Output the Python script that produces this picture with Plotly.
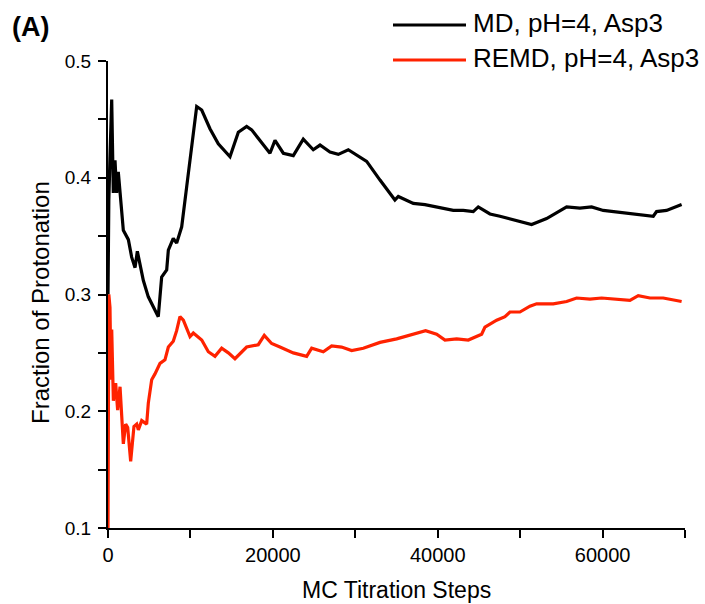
import plotly.graph_objects as go

# ---- data ----
md_steps = [0, 100, 250, 449, 645, 850, 1050, 1250, 1860, 2470,
            2870, 3280, 3560, 3840, 4290, 4890, 5500, 6100, 6510, 7120,
            7320, 7920, 8330, 8940, 9540, 10760, 11370, 12370, 13380, 14800,
            15810, 16820, 17430, 19650, 20260, 21270, 22480, 23690, 24900, 25720,
            26930, 27940, 29150, 31380, 33000, 34810, 35220, 37040, 38450, 40270,
            41890, 43100, 44310, 44920, 46340, 47550, 49160, 51390, 53210, 55640,
            57250, 58670, 60080, 61290, 62910, 64530, 66150, 66550, 67760, 69590]
md_frac = [0.30, 0.38, 0.42, 0.467, 0.387, 0.415, 0.387, 0.405, 0.355, 0.347,
           0.332, 0.323, 0.337, 0.327, 0.312, 0.298, 0.289, 0.281, 0.315, 0.321,
           0.338, 0.348, 0.344, 0.358, 0.392, 0.461, 0.458, 0.442, 0.429, 0.418,
           0.439, 0.444, 0.441, 0.421, 0.432, 0.421, 0.419, 0.433, 0.424, 0.428,
           0.422, 0.420, 0.424, 0.414, 0.398, 0.381, 0.384, 0.378, 0.377, 0.374,
           0.372, 0.372, 0.371, 0.375, 0.369, 0.367, 0.364, 0.360, 0.365, 0.375,
           0.374, 0.375, 0.372, 0.371, 0.369, 0.368, 0.367, 0.371, 0.372, 0.377]

remd_steps = [0, 100, 240, 360, 450, 650, 930, 1170, 1460, 1860,
              2140, 2390, 2750, 3150, 3480, 3680, 4090, 4690, 4890, 5300,
              5700, 6310, 6910, 7320, 7920, 8330, 8730, 9140, 9950, 10350,
              11370, 12170, 12980, 13790, 14600, 15400, 16820, 18230, 18960, 19850,
              20860, 22480, 24100, 24710, 26120, 27130, 28340, 29560, 30970, 33000,
              35020, 37040, 38530, 39870, 40880, 42300, 43710, 45330, 45730, 47150,
              48160, 48760, 49970, 51190, 52000, 54020, 55640, 56850, 58470, 59880,
              61290, 63320, 64330, 65750, 67360, 68570, 69590]
remd_frac = [0.10, 0.30, 0.289, 0.227, 0.27, 0.209, 0.224, 0.201, 0.221, 0.172,
             0.189, 0.186, 0.157, 0.187, 0.189, 0.184, 0.192, 0.189, 0.207, 0.227,
             0.232, 0.241, 0.244, 0.255, 0.260, 0.269, 0.281, 0.278, 0.264, 0.267,
             0.261, 0.251, 0.247, 0.254, 0.250, 0.245, 0.255, 0.257, 0.265, 0.258,
             0.255, 0.250, 0.247, 0.254, 0.251, 0.256, 0.255, 0.252, 0.254, 0.259,
             0.262, 0.266, 0.269, 0.266, 0.261, 0.262, 0.261, 0.266, 0.272, 0.278,
             0.281, 0.285, 0.285, 0.290, 0.292, 0.292, 0.294, 0.297, 0.296, 0.297,
             0.296, 0.295, 0.299, 0.297, 0.297, 0.295, 0.294]

x_tickvals = [0, 10000, 20000, 30000, 40000, 50000, 60000, 70000]
x_ticktext = ["0", "", "20000", "", "40000", "", "60000", ""]
y_tickvals = [0.1, 0.15, 0.2, 0.25, 0.3, 0.35, 0.4, 0.45, 0.5]
y_ticktext = ["0.1", "", "0.2", "", "0.3", "", "0.4", "", "0.5"]

series_names = ["MD, pH=4, Asp3", "REMD, pH=4, Asp3"]
series_colors = ["#000000", "#FF2200"]

FONT = "Liberation Sans, Arial, sans-serif"

fig = go.Figure()
fig.add_trace(go.Scatter(x=md_steps, y=md_frac, mode="lines", name=series_names[0],
                         line=dict(color=series_colors[0], width=3.2), showlegend=False))
fig.add_trace(go.Scatter(x=remd_steps, y=remd_frac, mode="lines", name=series_names[1],
                         line=dict(color=series_colors[1], width=3.2), showlegend=False))

L, R, T, B = 108, 20, 61, 76
W, H = 705, 604
pw, ph = W - L - R, H - T - B

def px_x(p):
    return (p - L) / pw

def px_y(p):
    return (H - B - p) / ph

fig.update_layout(
    width=W, height=H,
    margin=dict(l=L, r=R, t=T, b=B),
    plot_bgcolor="white", paper_bgcolor="white",
    font=dict(family=FONT, color="black"),
    xaxis=dict(range=[0, 70000], tickvals=x_tickvals, ticktext=x_ticktext,
               showgrid=False, zeroline=False, showline=True, linecolor="black", linewidth=2,
               ticks="outside", ticklen=8, tickwidth=2, tickcolor="black",
               tickfont=dict(size=20, family=FONT, color="black")),
    yaxis=dict(range=[0.1, 0.5], tickvals=y_tickvals, ticktext=y_ticktext,
               showgrid=False, zeroline=False, showline=True, linecolor="black", linewidth=2,
               ticks="outside", ticklen=8, tickwidth=2, tickcolor="black",
               ticklabelstandoff=3,
               tickfont=dict(size=19, family=FONT, color="black")),
)

annotations = [
    dict(text="MC Titration Steps", xref="paper", yref="paper", x=px_x(396), y=px_y(590),
         xanchor="center", yanchor="middle", showarrow=False, font=dict(size=23, family=FONT)),
    dict(text="Fraction of Protonation", xref="paper", yref="paper", x=px_x(40), y=px_y(303),
         xanchor="center", yanchor="middle", textangle=-90, showarrow=False,
         font=dict(size=24, family=FONT)),
    dict(text="<b>(A)</b>", xref="paper", yref="paper", x=px_x(10), y=px_y(27),
         xanchor="left", yanchor="middle", showarrow=False, font=dict(size=27, family=FONT)),
]
legend_rows = [25, 60]
shapes = []
for name, color, row in zip(series_names, series_colors, legend_rows):
    shapes.append(dict(type="line", xref="paper", yref="paper",
                       x0=px_x(393), x1=px_x(466), y0=px_y(row), y1=px_y(row),
                       line=dict(color=color, width=3)))
    annotations.append(dict(text=name, xref="paper", yref="paper", x=px_x(471), y=px_y(row - 2),
                            xanchor="left", yanchor="middle", showarrow=False,
                            font=dict(size=26, family=FONT)))
fig.update_layout(annotations=annotations, shapes=shapes)

fig.write_html("out.html", config={"displayModeBar": False},
               post_script="document.body.style.margin='0';document.body.style.padding='0';")
